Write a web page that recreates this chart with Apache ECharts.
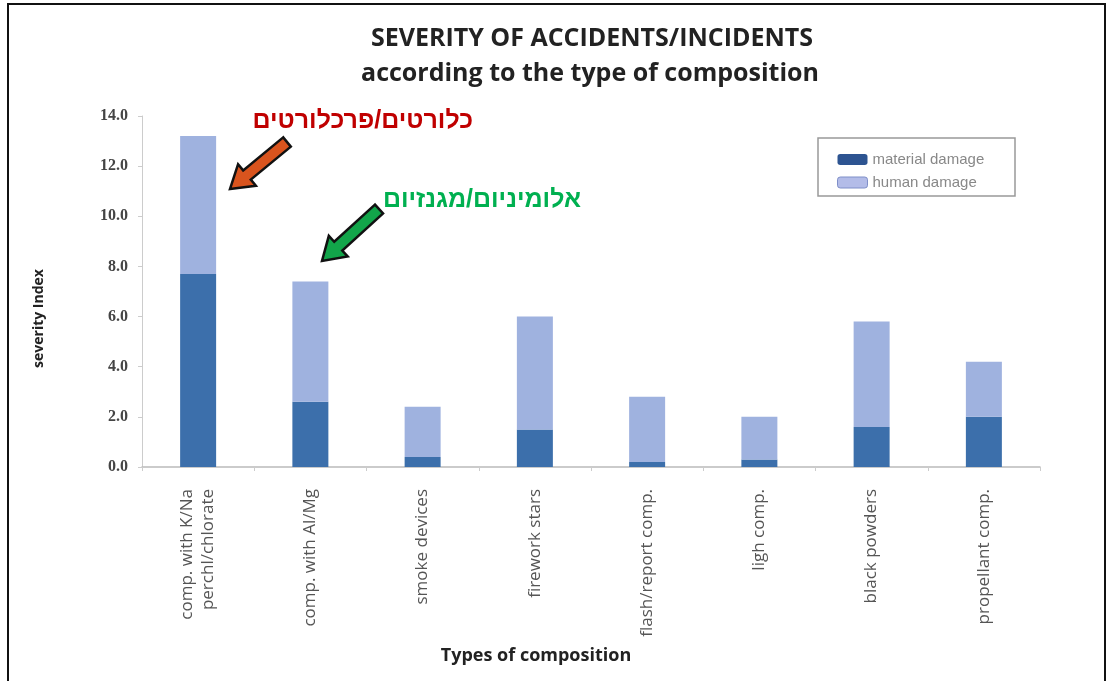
<!DOCTYPE html>
<html>
<head>
<meta charset="utf-8">
<script src="https://cdn.jsdelivr.net/npm/echarts@6/dist/echarts.min.js"></script>
<style>html,body{margin:0;padding:0;background:#fff}#c{width:1113px;height:681px}</style>
</head>
<body>
<div id="c"></div>
<script>
const categories = [
  'comp. with K/Na\nperchl/chlorate',
  'comp. with Al/Mg',
  'smoke devices',
  'firework stars',
  'flash/report comp.',
  'ligh comp.',
  'black powders',
  'propellant comp.'
];
const materialDamage = [7.7, 2.6, 0.4, 1.5, 0.2, 0.3, 1.6, 2.0];
const humanDamage    = [5.5, 4.8, 2.0, 4.5, 2.6, 1.7, 4.2, 2.2];
const seriesNames = ['material damage', 'human damage'];
const titleText = 'SEVERITY OF ACCIDENTS/INCIDENTS';
const subtitleText = 'according to the type of composition';
const yAxisTitle = 'severity Index';
const xAxisTitle = 'Types of composition';
const noteRed = 'כלורטים/פרכלורטים';
const noteGreen = 'אלומיניום/מגנזיום';

const chart = echarts.init(document.getElementById('c'));

function arrow(x1, y1, x2, y2, color) {
  const dx = x2 - x1, dy = y2 - y1;
  const L = Math.sqrt(dx*dx + dy*dy);
  const ux = dx / L, uy = dy / L;
  const px = -uy, py = ux;
  const sw = 6, hw = 14, hl = 22;
  const bx = x2 - ux*hl, by = y2 - uy*hl;
  const pts = [
    [x1 + px*sw, y1 + py*sw],
    [bx + px*sw, by + py*sw],
    [bx + px*hw, by + py*hw],
    [x2, y2],
    [bx - px*hw, by - py*hw],
    [bx - px*sw, by - py*sw],
    [x1 - px*sw, y1 - py*sw]
  ];
  return {type:'polygon', shape:{points:pts}, style:{fill:color, stroke:'#111', lineWidth:2.5}, z:10};
}

chart.setOption({
  backgroundColor:'#fff',
  animation:false,
  title:[
    {text:titleText, left:587, top:21, textAlign:'center',
     textStyle:{fontFamily:'Open Sans', fontWeight:'bold', fontSize:25, color:'#222'}},
    {text:subtitleText, left:585, top:56, textAlign:'center',
     textStyle:{fontFamily:'Open Sans', fontWeight:'bold', fontSize:25, color:'#222'}}
  ],
  legend:{
    data:[
      {name:seriesNames[0], itemStyle:{color:'#2d5491'}},
      {name:seriesNames[1], itemStyle:{color:'#b3bce8', borderColor:'#7f8fc8', borderWidth:1}}
    ],
    orient:'vertical',
    left:832, top:147,
    itemWidth:30, itemHeight:11, itemGap:8,
    textStyle:{fontFamily:'Liberation Sans', fontSize:15, color:'#888'}
  },
  grid:{left:142, right:73, top:116, bottom:214, containLabel:false},
  xAxis:{
    type:'category',
    data:categories,
    name:xAxisTitle,
    nameLocation:'middle',
    nameGap:180,
    nameTextStyle:{fontFamily:'Open Sans', fontWeight:'bold', fontSize:18, color:'#222', padding:[0,110,0,0]},
    axisLine:{lineStyle:{color:'#bbb', width:1.5}},
    axisTick:{show:true, length:4, lineStyle:{color:'#ccc'}},
    axisLabel:{rotate:90, margin:22, fontFamily:'Open Sans', fontSize:17, color:'#555', lineHeight:21}
  },
  yAxis:{
    type:'value',
    min:0, max:14, interval:2,
    name:yAxisTitle,
    nameLocation:'middle',
    nameGap:96,
    nameRotate:90,
    nameTextStyle:{fontFamily:'Open Sans', fontWeight:'bold', fontSize:14, color:'#222', padding:[0,54,0,0]},
    axisLine:{show:true, lineStyle:{color:'#ccc'}},
    axisTick:{show:true, length:4, lineStyle:{color:'#ccc'}},
    splitLine:{show:false},
    axisLabel:{margin:14, formatter:v => v.toFixed(1),
      fontFamily:'Liberation Serif', fontWeight:'bold', fontSize:16, color:'#444'}
  },
  series:[
    {name:seriesNames[0], type:'bar', stack:'s', data:materialDamage, barWidth:36,
     itemStyle:{color:'#3c6fab'}},
    {name:seriesNames[1], type:'bar', stack:'s', data:humanDamage, barWidth:36,
     itemStyle:{color:'#9fb2df'}}
  ],
  graphic:[
    {type:'rect', shape:{x:8, y:4, width:1097, height:690}, style:{fill:'none', stroke:'#111', lineWidth:2}, silent:true},
    {type:'rect', shape:{x:818, y:138, width:197, height:58}, style:{fill:'none', stroke:'#999', lineWidth:1.5}, silent:true},
    arrow(287, 142, 230, 189, '#d9541e'),
    arrow(379, 209, 322, 261, '#12a54a'),
    {type:'text', x:473, y:121, style:{text:noteRed, fill:'#c00000', font:'bold 25px "Liberation Sans"', align:'right', verticalAlign:'middle'}, z:11},
    {type:'text', x:581, y:200, style:{text:noteGreen, fill:'#00b050', font:'bold 25px "Liberation Sans"', align:'right', verticalAlign:'middle'}, z:11}
  ]
});
</script>
</body>
</html>
